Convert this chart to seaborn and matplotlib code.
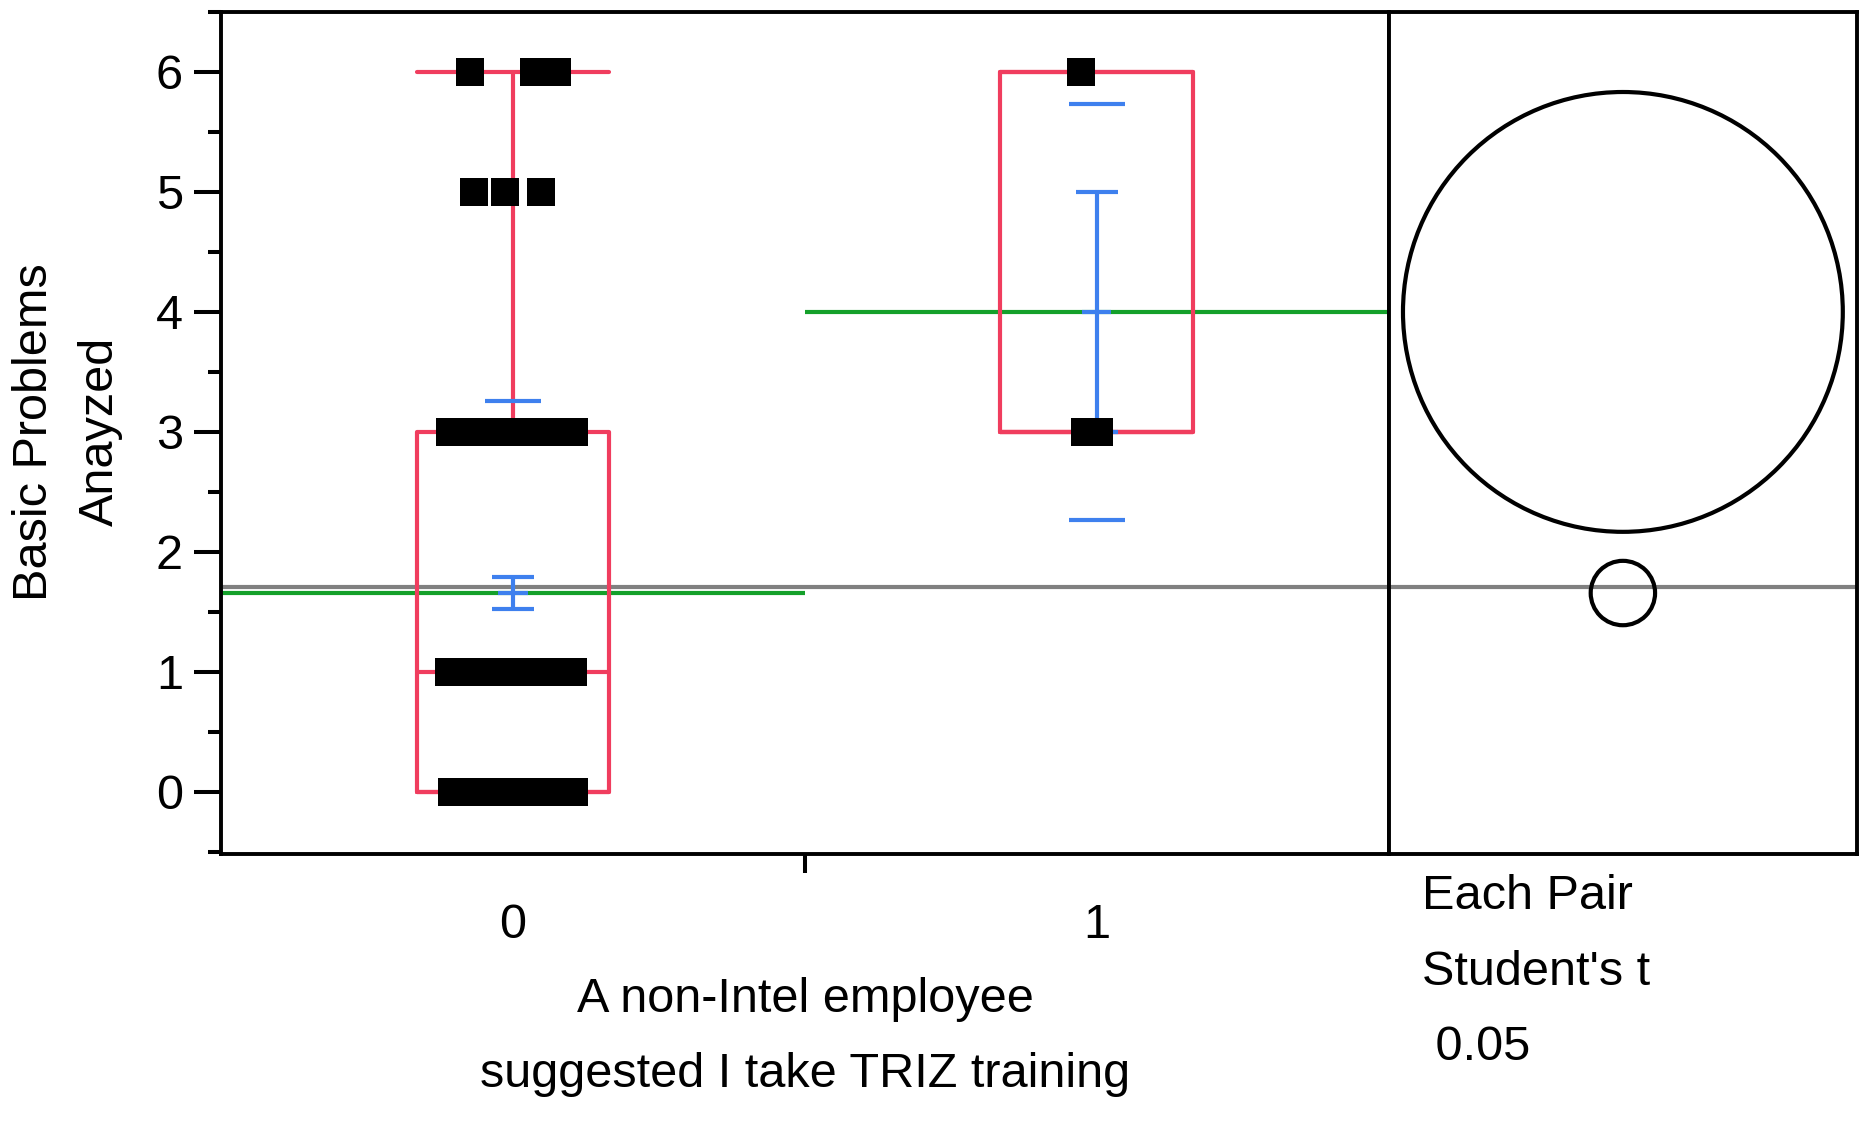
import numpy as np
import pandas as pd
import seaborn as sns
import matplotlib.pyplot as plt
from matplotlib.patches import Circle

# groups on the x axis
groups = ['0', '1']
# distinct values of "Basic Problems Anayzed" and how many respondents gave them
values_g0 = [0, 1, 3, 5, 6]
counts_g0 = [50, 28, 55, 3, 4]
values_g1 = [3, 6]
counts_g1 = [2, 1]
t_crit = 1.977  # Student's t, alpha 0.05, df 141

df = pd.DataFrame({
    'group': ['0'] * sum(counts_g0) + ['1'] * sum(counts_g1),
    'value': np.concatenate([np.repeat(values_g0, counts_g0),
                             np.repeat(values_g1, counts_g1)]).astype(float),
})

red = '#F03D5E'
blue = '#3E80EE'
green = '#14A02A'
gray = '#808080'

sns.set_theme(style='white')
plt.rcParams['font.family'] = ['Liberation Sans', 'DejaVu Sans']
plt.rcParams['text.color'] = 'black'
plt.rcParams['axes.labelcolor'] = 'black'
plt.rcParams['xtick.color'] = 'black'
plt.rcParams['ytick.color'] = 'black'
fs = 35
lw = 3.0

fig = plt.figure(figsize=(18.64, 11.27), dpi=100)
ax = fig.add_axes([0.1186, 0.242, 0.745 - 0.1186, 0.9894 - 0.242])
ax2 = fig.add_axes([0.745, 0.242, 0.9963 - 0.745, 0.9894 - 0.242])

# jittered points, group 1 is only jittered a little
np.random.seed(7)
sns.stripplot(data=df[df.group == '0'], x='group', y='value', order=groups,
              color='black', marker='s', size=20, jitter=0.11, linewidth=0,
              ax=ax, zorder=6)
sns.stripplot(data=df[df.group == '1'], x='group', y='value', order=groups,
              color='black', marker='s', size=20, jitter=0.03, linewidth=0,
              ax=ax, zorder=6)

# summary stats per group (JMP style quantiles)
stats = []
means, sds, ns = [], [], []
for g in groups:
    v = df.loc[df.group == g, 'value'].to_numpy()
    q1, med, q3 = np.quantile(v, [0.25, 0.5, 0.75], method='weibull')
    iqr = q3 - q1
    stats.append(dict(med=med, q1=q1, q3=q3,
                      whislo=v[v >= q1 - 1.5 * iqr].min(),
                      whishi=v[v <= q3 + 1.5 * iqr].max(), fliers=[]))
    means.append(v.mean())
    sds.append(v.std(ddof=1))
    ns.append(len(v))
means, sds, ns = np.array(means), np.array(sds), np.array(ns)
se = sds / np.sqrt(ns)
pooled_sd = np.sqrt(((ns - 1) * sds ** 2).sum() / (ns.sum() - len(ns)))
radii = t_crit * pooled_sd / np.sqrt(ns)
grand_mean = df.value.mean()

pos = np.arange(len(groups))
ax.bxp(stats, positions=pos, widths=0.33, capwidths=0.33, showfliers=False,
       manage_ticks=False, zorder=3,
       boxprops=dict(color=red, linewidth=lw),
       whiskerprops=dict(color=red, linewidth=lw),
       capprops=dict(color=red, linewidth=lw),
       medianprops=dict(color=red, linewidth=lw))

# grand mean and group means
ax.axhline(grand_mean, color=gray, lw=lw, zorder=1)
ax.hlines(means, pos - 0.5, pos + 0.5, color=green, lw=lw, zorder=2)

# mean error bars and std dev lines
ax.errorbar(pos, means, yerr=se, fmt='none', ecolor=blue, elinewidth=lw,
            capsize=15, capthick=lw, zorder=4)
ax.hlines(means, pos - 0.025, pos + 0.025, color=blue, lw=lw, zorder=4)
ax.hlines(np.concatenate([means + sds, means - sds]),
          np.concatenate([pos, pos]) - 0.048, np.concatenate([pos, pos]) + 0.048,
          color=blue, lw=lw, zorder=4)

ylim = (-0.52, 6.5)
ax.set_ylim(*ylim)
ax.set_xlim(-0.5, 1.5)
ax.set_xlabel('')
ax.set_ylabel('')
ax.set_xticks(pos)
ax.set_xticklabels(groups)
ax.set_xticks([0.5], minor=True)
ax.set_yticks(range(0, 7))
ax.set_yticks(np.arange(-0.5, 7, 1.0), minor=True)
ax.tick_params(axis='y', which='major', length=19.5, width=2.9, pad=8,
               labelsize=fs, color='black', labelcolor='black', left=True)
ax.tick_params(axis='y', which='minor', length=9.5, width=2.9, left=True, color='black')
ax.tick_params(axis='x', which='major', length=0, pad=35, labelsize=fs,
               labelcolor='black')
ax.tick_params(axis='x', which='minor', length=13.5, width=2.9, bottom=True, color='black')
for s in ax.spines.values():
    s.set_color('black')
    s.set_linewidth(2.8)

# comparison circles panel
ax2.set_ylim(*ylim)
fig.canvas.draw()
bb = ax2.get_window_extent()
xr = (ylim[1] - ylim[0]) * bb.width / bb.height
ax2.set_xlim(0, xr)
ax2.axhline(grand_mean, color=gray, lw=lw, zorder=1)
for m, r in zip(means, radii):
    ax2.add_patch(Circle((xr / 2, m), r, fill=False, ec='black', lw=lw, zorder=3))
ax2.set_xticks([])
ax2.set_yticks([])
for s in ax2.spines.values():
    s.set_color('black')
    s.set_linewidth(2.8)

fig.text(0.036, 0.617, 'Basic Problems\nAnayzed', rotation=90, ha='center',
         va='center', fontsize=fs, linespacing=1.6)
fig.text(0.432, 0.0799, 'A non-Intel employee\nsuggested I take TRIZ training',
         ha='center', va='center', fontsize=fs, linespacing=1.85)
fig.text(0.763, 0.1375, "Each Pair\nStudent's t\n 0.05", ha='left',
         va='center', fontsize=fs, linespacing=1.87)

fig.savefig('out.png', dpi=100)
